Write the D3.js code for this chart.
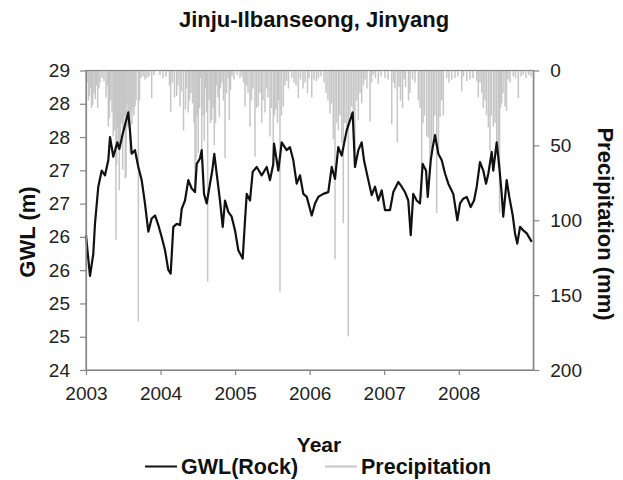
<!DOCTYPE html>
<html>
<head>
<meta charset="utf-8">
<script src="https://cdn.jsdelivr.net/npm/d3@7"></script>
<style>
  html, body { margin: 0; padding: 0; background: #fff; }
  svg { display: block; }
  text { font-family: "Liberation Sans", Arial, sans-serif; }
</style>
</head>
<body>
<div id="chart"></div>
<script>
// ---------------- data ----------------
const title = "Jinju-Ilbanseong, Jinyang";
const yearTicks = [2003, 2004, 2005, 2006, 2007, 2008];
const precipTicks = [0, 50, 100, 150, 200];

// GWL (Rock), m — decimal year / level
const gwlYear = [
  2003.000, 2003.027, 2003.054, 2003.098, 2003.121, 2003.165, 2003.211, 2003.255, 2003.299, 2003.322,
  2003.366, 2003.420, 2003.447, 2003.492, 2003.567, 2003.590, 2003.613, 2003.657, 2003.702, 2003.747,
  2003.791, 2003.836, 2003.881, 2003.926, 2003.970, 2004.015, 2004.060, 2004.104, 2004.136, 2004.171,
  2004.217, 2004.261, 2004.284, 2004.328, 2004.372, 2004.418, 2004.462, 2004.485, 2004.529, 2004.552,
  2004.583, 2004.619, 2004.663, 2004.694, 2004.721, 2004.753, 2004.797, 2004.834, 2004.865, 2004.909,
  2004.954, 2004.999, 2005.043, 2005.102, 2005.133, 2005.156, 2005.200, 2005.236, 2005.290, 2005.357,
  2005.424, 2005.468, 2005.512, 2005.522, 2005.580, 2005.625, 2005.692, 2005.736, 2005.781, 2005.826,
  2005.871, 2005.915, 2005.961, 2006.028, 2006.072, 2006.116, 2006.183, 2006.250, 2006.296, 2006.340,
  2006.384, 2006.430, 2006.497, 2006.577, 2006.608, 2006.653, 2006.698, 2006.729, 2006.787, 2006.832,
  2006.877, 2006.921, 2006.966, 2007.011, 2007.078, 2007.122, 2007.189, 2007.235, 2007.279, 2007.323,
  2007.356, 2007.390, 2007.436, 2007.480, 2007.516, 2007.561, 2007.584, 2007.624, 2007.651, 2007.682,
  2007.726, 2007.772, 2007.816, 2007.860, 2007.927, 2007.981, 2008.017, 2008.061, 2008.107, 2008.160,
  2008.205, 2008.241, 2008.285, 2008.329, 2008.366, 2008.397, 2008.442, 2008.463, 2008.509, 2008.544,
  2008.576, 2008.597, 2008.643, 2008.678, 2008.724, 2008.755, 2008.785, 2008.822, 2008.866, 2008.912,
  2008.979
];
const gwlLevel = [
  26.25, 25.90, 25.57, 25.94, 26.45, 27.06, 27.33, 27.25, 27.50, 27.89,
  27.56, 27.80, 27.69, 27.94, 28.30, 28.00, 27.61, 27.67, 27.39, 27.17,
  26.78, 26.31, 26.53, 26.58, 26.42, 26.22, 26.00, 25.67, 25.61, 26.39,
  26.44, 26.42, 26.69, 26.83, 27.17, 27.03, 26.97, 27.44, 27.53, 27.67,
  26.94, 26.78, 27.11, 27.33, 27.61, 27.28, 26.83, 26.39, 26.83, 26.64,
  26.56, 26.33, 26.00, 25.86, 26.50, 26.94, 26.83, 27.31, 27.39, 27.25,
  27.39, 27.17, 27.44, 27.78, 27.33, 27.80, 27.67, 27.72, 27.50, 27.11,
  27.25, 26.94, 26.89, 26.58, 26.78, 26.89, 26.94, 26.97, 27.39, 27.19,
  27.72, 27.58, 28.00, 28.30, 27.39, 27.67, 27.80, 27.50, 27.17, 26.92,
  27.06, 26.83, 27.00, 26.67, 26.67, 26.97, 27.14, 27.06, 26.97, 26.83,
  26.25, 26.94, 26.83, 26.78, 27.44, 27.33, 26.89, 27.50, 27.72, 27.92,
  27.61, 27.50, 27.28, 27.11, 26.94, 26.50, 26.78, 26.86, 26.89, 26.72,
  26.83, 27.06, 27.47, 27.33, 27.11, 27.28, 27.64, 27.33, 27.80, 27.39,
  26.94, 26.56, 27.17, 26.89, 26.58, 26.28, 26.11, 26.39, 26.33, 26.28,
  26.14
];

// Precipitation, mm — decimal year / daily amount
const precipYear = [
  2003.013, 2003.034, 2003.044, 2003.060, 2003.074, 2003.090, 2003.107, 2003.125, 2003.141, 2003.157,
  2003.174, 2003.188, 2003.215, 2003.241, 2003.268, 2003.288, 2003.299, 2003.313, 2003.329, 2003.349,
  2003.366, 2003.380, 2003.393, 2003.402, 2003.412, 2003.425, 2003.436, 2003.447, 2003.460, 2003.472,
  2003.492, 2003.503, 2003.516, 2003.527, 2003.537, 2003.550, 2003.563, 2003.577, 2003.590, 2003.604,
  2003.617, 2003.630, 2003.644, 2003.657, 2003.671, 2003.702, 2003.718, 2003.738, 2003.765, 2003.791,
  2003.818, 2003.845, 2003.881, 2003.912,
  2003.993, 2004.033, 2004.073, 2004.120, 2004.136, 2004.160, 2004.187, 2004.217, 2004.234, 2004.261,
  2004.281, 2004.308, 2004.335, 2004.348, 2004.372, 2004.388, 2004.408, 2004.429, 2004.449, 2004.462,
  2004.476, 2004.492, 2004.506, 2004.523, 2004.536, 2004.552, 2004.569, 2004.587, 2004.603, 2004.616,
  2004.632, 2004.650, 2004.670, 2004.686, 2004.704, 2004.721, 2004.737, 2004.751, 2004.771, 2004.788,
  2004.804, 2004.824, 2004.844, 2004.865, 2004.885, 2004.905, 2004.922, 2004.938, 2004.958, 2004.985,
  2005.026, 2005.066, 2005.093, 2005.113, 2005.133, 2005.153, 2005.173, 2005.200, 2005.220, 2005.240,
  2005.267, 2005.287, 2005.311, 2005.334, 2005.357, 2005.374, 2005.401, 2005.421, 2005.441, 2005.468,
  2005.488, 2005.512, 2005.529, 2005.549, 2005.569, 2005.586, 2005.602, 2005.622, 2005.647, 2005.669,
  2005.692, 2005.716, 2005.759, 2005.790, 2005.817, 2005.848, 2005.877, 2005.911, 2005.938,
  2005.971, 2005.991, 2006.028, 2006.058, 2006.092, 2006.119, 2006.152, 2006.193, 2006.219, 2006.246,
  2006.273, 2006.293, 2006.317, 2006.340, 2006.360, 2006.384, 2006.404, 2006.430, 2006.451, 2006.472,
  2006.497, 2006.519, 2006.541, 2006.564, 2006.586, 2006.608, 2006.631, 2006.653, 2006.675, 2006.698,
  2006.722, 2006.743, 2006.769, 2006.810, 2006.830, 2006.854, 2006.883, 2006.921, 2006.957,
  2007.011, 2007.051, 2007.101, 2007.125, 2007.145, 2007.176, 2007.199, 2007.219, 2007.246, 2007.266,
  2007.286, 2007.326, 2007.346, 2007.380, 2007.413, 2007.458, 2007.480, 2007.503, 2007.521, 2007.541,
  2007.570, 2007.594, 2007.614, 2007.637, 2007.659, 2007.679, 2007.704, 2007.728, 2007.749, 2007.771,
  2007.793, 2007.838, 2007.869, 2007.906, 2007.950, 2007.990,
  2008.040, 2008.064, 2008.107, 2008.151, 2008.191, 2008.241, 2008.262, 2008.285, 2008.308, 2008.329,
  2008.352, 2008.372, 2008.397, 2008.419, 2008.437, 2008.464, 2008.486, 2008.509, 2008.531, 2008.547,
  2008.560, 2008.576, 2008.594, 2008.621, 2008.641, 2008.661, 2008.688, 2008.732, 2008.761, 2008.799,
  2008.835, 2008.866, 2008.902, 2008.938, 2008.969
];
const precipMm = [
  8, 20, 17, 12, 25, 23, 15, 19, 10, 25,
  12, 8, 5, 7, 18, 10, 37.5, 32, 20, 28,
  44, 40, 30, 113, 63, 38, 52, 80, 45, 35,
  66, 40, 30, 72, 71, 22, 38, 32, 55, 28,
  36, 25, 30, 24, 20, 167.5, 20, 5, 4, 6,
  5, 4, 18.5, 3,
  3, 5, 4, 10, 27.5, 8, 18, 17, 10, 24,
  14, 40, 26, 12, 28, 20, 15, 22, 35, 82,
  60, 30, 55, 25, 5, 53, 30, 47, 12, 28,
  141, 20, 35, 33, 25, 49.8, 35, 10, 18, 31,
  12, 8, 20, 58.5, 15, 5, 32.8, 13, 4, 6,
  3, 5, 4, 8, 24, 10, 15, 37.5, 20, 12,
  57.5, 25, 24, 15, 35, 20, 28, 12, 18, 44,
  25, 60, 30, 26, 35, 20, 147.5, 30, 24, 10,
  7, 12, 5, 8, 10, 18.5, 6, 12, 8,
  15, 5, 18, 6, 7, 5, 4, 8, 15, 20,
  28.5, 22, 46, 126, 35, 40, 30, 48.5, 102, 35,
  37.5, 177.5, 30, 24, 35, 57.5, 20, 33, 15, 22,
  10, 6, 12, 34, 8, 3, 5, 9, 4,
  5, 6, 36, 8, 12, 48, 11, 20, 25, 6,
  11, 20, 15, 6, 8, 20, 25, 85, 35, 30,
  44, 45, 60, 56, 44.5, 30, 95, 55, 31, 20,
  30, 5, 8, 6, 5, 4,
  14, 4, 7, 6, 5, 7, 18, 8, 15, 25,
  20, 30, 38, 54, 30, 37.5, 35, 48.5, 65, 95,
  25, 22, 15, 24, 27, 6, 8, 4, 5, 18.5,
  4, 3, 5, 3, 4
];

// ---------------- chart ----------------
const W = 623, H = 480;
const m = { left: 86, right: 533.3, top: 70.5, bottom: 370 };
const font = '"Liberation Sans", Arial, sans-serif';

const svg = d3.select("#chart").append("svg")
  .attr("width", W).attr("height", H);

const x = d3.scaleLinear().domain([2003, 2009]).range([m.left, m.right]);
const yG = d3.scaleLinear().domain([24, 29]).range([m.bottom, m.top]);
const yP = d3.scaleLinear().domain([0, 200]).range([m.top, m.bottom]);

const gwlTicks = d3.range(10).map(i => 24 + i * 5 / 9);

// precipitation bars (hanging from the top)
svg.append("g").selectAll("rect")
  .data(precipYear.map((yr, i) => ({ yr, mm: precipMm[i] })))
  .join("rect")
  .attr("x", d => x(d.yr) - 0.75)
  .attr("width", 1.5)
  .attr("y", yP(0))
  .attr("height", d => yP(d.mm) - yP(0))
  .attr("fill", "#c6c6c6");

// GWL line
const gwl = gwlYear.map((yr, i) => ({ yr, v: gwlLevel[i] }));
svg.append("path")
  .datum(gwl)
  .attr("fill", "none")
  .attr("stroke", "#111")
  .attr("stroke-width", 2.2)
  .attr("stroke-linejoin", "round")
  .attr("d", d3.line().x(d => x(d.yr)).y(d => yG(d.v)));

// plot frame
const axisColor = "#858585";
svg.append("rect")
  .attr("x", m.left).attr("y", m.top)
  .attr("width", m.right - m.left).attr("height", m.bottom - m.top)
  .attr("fill", "none").attr("stroke", axisColor).attr("stroke-width", 1.2);

function styleAxis(g) {
  g.select(".domain").attr("stroke", axisColor).attr("stroke-width", 1.2);
  g.selectAll(".tick line").attr("stroke", axisColor).attr("stroke-width", 1.2);
  g.selectAll(".tick text").attr("fill", "#222").style("font-family", font).style("font-size", "19px");
}

svg.append("g").attr("transform", `translate(${m.left},0)`)
  .call(d3.axisLeft(yG).tickValues(gwlTicks).tickFormat(d3.format(".0f")).tickSize(6).tickPadding(10).tickSizeOuter(0))
  .call(styleAxis);

svg.append("g").attr("transform", `translate(${m.right},0)`)
  .call(d3.axisRight(yP).tickValues(precipTicks).tickSize(6).tickPadding(11).tickSizeOuter(0))
  .call(styleAxis);

svg.append("g").attr("transform", `translate(0,${m.bottom})`)
  .call(d3.axisBottom(x).tickValues(yearTicks).tickFormat(d3.format("d")).tickSize(5).tickPadding(12).tickSizeOuter(0))
  .call(styleAxis);

// titles
svg.append("text").attr("x", 314).attr("y", 27).attr("text-anchor", "middle")
  .style("font-size", "22px").style("font-weight", "bold").attr("fill", "#111").text(title);

svg.append("text").attr("transform", "translate(35,232) rotate(-90)").attr("text-anchor", "middle")
  .style("font-size", "22px").style("font-weight", "bold").attr("fill", "#111").text("GWL (m)");

svg.append("text").attr("transform", "translate(598,224) rotate(90)").attr("text-anchor", "middle")
  .style("font-size", "22px").style("font-weight", "bold").attr("fill", "#111").text("Precipitation (mm)");

svg.append("text").attr("x", 319).attr("y", 452).attr("text-anchor", "middle")
  .style("font-size", "21px").style("font-weight", "bold").attr("fill", "#111").text("Year");

// legend
const legend = [
  { label: "GWL(Rock)", color: "#111", x0: 145, width: 2 },
  { label: "Precipitation", color: "#c6c6c6", x0: 325, width: 2 }
];
const lg = svg.append("g");
legend.forEach(l => {
  lg.append("line").attr("x1", l.x0).attr("x2", l.x0 + 32).attr("y1", 466.5).attr("y2", 466.5)
    .attr("stroke", l.color).attr("stroke-width", l.width);
  lg.append("text").attr("x", l.x0 + 36).attr("y", 474)
    .style("font-size", "21.5px").style("font-weight", "bold").attr("fill", "#111").text(l.label);
});
</script>
</body>
</html>
